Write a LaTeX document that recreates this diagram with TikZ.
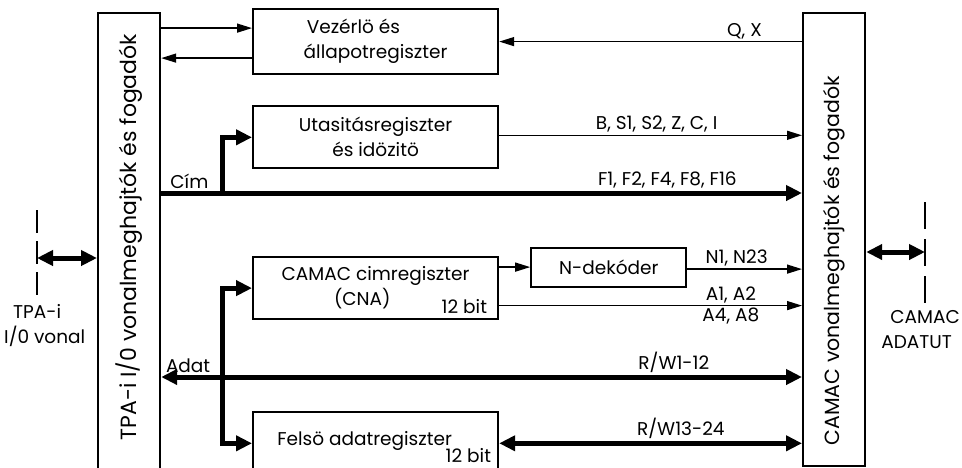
\documentclass[tikz,border=0pt]{standalone}
\usepackage{fontspec}
\setmainfont{Poppins}
\usetikzlibrary{arrows.meta,positioning}
\newcommand{\diagfont}{\fontsize{18.5}{25}\selectfont}
\newcommand{\sidefont}{\fontsize{22}{26}\selectfont}
\tikzset{
  box/.style={rectangle, draw, line width=2.2pt, align=center, font=\diagfont, inner sep=2pt},
  side/.style={box, minimum width=62pt},
  reg/.style={box, minimum width=245pt, minimum height=62pt},
  lbl/.style={font=\diagfont, inner sep=2pt},
  sig/.style={-{Triangle[length=15pt,width=9pt]}, line width=1.4pt},
  bus/.style={line width=5pt},
  busarr/.style={bus, -{Triangle[length=16pt,width=15pt]}},
  dbus/.style={bus, {Triangle[length=16pt,width=15pt]}-{Triangle[length=16pt,width=15pt]}},
  cut/.style={line width=1.4pt, dash pattern=on 23pt off 8pt}
}

\begin{document}
\begin{tikzpicture}[x=1pt, y=-1pt]
\useasboundingbox (0,0) rectangle (962,467);

% line drivers on both sides
\node[side, minimum height=460pt, anchor=north west] (tpa) at (97,12) {};
\node[rotate=90, font=\sidefont] at ([yshift=6pt]tpa.center) {TPA-i I/0 vonalmeghajtók és fogadók};
\node[side, minimum height=453pt, anchor=north west] (camac) at (802,12) {};
\node[rotate=90, font=\fontsize{20.5}{24}\selectfont] at ([yshift=-21pt]camac.center) {CAMAC vonalmeghajtók és fogadók};

% registers
\node[reg, minimum height=65pt, anchor=north west] (vez) at (252,8) {Vezérlö és\phantom{xxxxx}\\állapotregiszter};
\node[reg, below=30pt of vez] (uta) {Utasitásregiszter\\és idözitö};
\node[reg, anchor=north west] (cna) at (252,256) {CAMAC cimregiszter\\(CNA)\phantom{xxx}};
\node[box, minimum width=155pt, minimum height=39pt, right=31pt of cna, yshift=21pt] (ndek) {N-dekóder};
\node[reg, below=91pt of cna] (felso) {\raisebox{9pt}{Felsö adatregiszter}\hspace*{22pt}};
\node[lbl, anchor=east] at ([xshift=-10pt, yshift=-18pt]cna.east) {12 bit};
\node[lbl, inner sep=0pt, anchor=base east] at ([xshift=-8pt, yshift=-19pt]felso.east) {12 bit};

% bus junctions and outside ends
\coordinate (cim) at (222,193);
\coordinate (adat) at (222,377);
\coordinate (tpaio) at (37,258);
\coordinate (camacio) at (925,252);

% thin signal lines
\draw[sig] ([yshift=13.5pt]vez.west -| tpa.east) -- ([yshift=13.5pt]vez.west);
\draw[sig] ([yshift=-16.5pt]vez.west) -- ([yshift=-16.5pt]vez.west -| tpa.east);
\draw[sig] (camac.west |- vez.east) -- node[lbl, above, pos=0.19] {Q, X} (vez.east);
\draw[sig] ([yshift=2pt]uta.east) -- node[lbl, above, pos=0.52] {B, S1, S2, Z, C, I} ([yshift=2pt]uta.east -| camac.west);
\draw[sig] (cna.east |- ndek.west) -- (ndek.west);
\draw[sig] ([yshift=-2pt]ndek.east) -- node[lbl, above, pos=0.43] {N1, N23} ([yshift=-2pt]ndek.east -| camac.west);
\draw[sig] ([yshift=-17.5pt]cna.east) -- node[lbl, above, pos=0.765] {A1, A2} node[lbl, below, pos=0.765] {A4, A8} ([yshift=-17.5pt]cna.east -| camac.west);

% address and data buses
\draw[busarr] (tpa.east |- cim) -- node[lbl, above, pos=0.044] {Cím} node[lbl, above, pos=0.79] {F1, F2, F4, F8, F16} (camac.west |- cim);
\draw[busarr] (cim) |- (uta.west);
\draw[dbus] (tpa.east |- adat) -- node[lbl, above, pos=0.042] {Adat} node[lbl, above, pos=0.80] {R/W1-12} (camac.west |- adat);
\draw[busarr] (adat) |- (cna.west);
\draw[busarr] (adat) |- (felso.west);
\draw[dbus] (felso.east) -- node[lbl, above, pos=0.6] {R/W13-24} (felso.east -| camac.west);

% outside connections
\draw[dbus] (tpaio) -- (tpaio -| tpa.west);
\draw[cut] ([yshift=48pt]tpaio) -- ([yshift=-40pt]tpaio);
\node[lbl, align=left, anchor=north west] at (2,302) {\hspace*{9pt}TPA-i\\I/0 vonal};
\draw[dbus] (camacio -| camac.east) -- (camacio);
\draw[cut, dash pattern=on 27pt off 10pt] ([yshift=50pt]camacio) -- ([yshift=-56pt]camacio);
\node[lbl, align=left, anchor=north east] at (962,308) {\hspace*{9pt}CAMAC\\ADATUT};
\end{tikzpicture}
\end{document}
